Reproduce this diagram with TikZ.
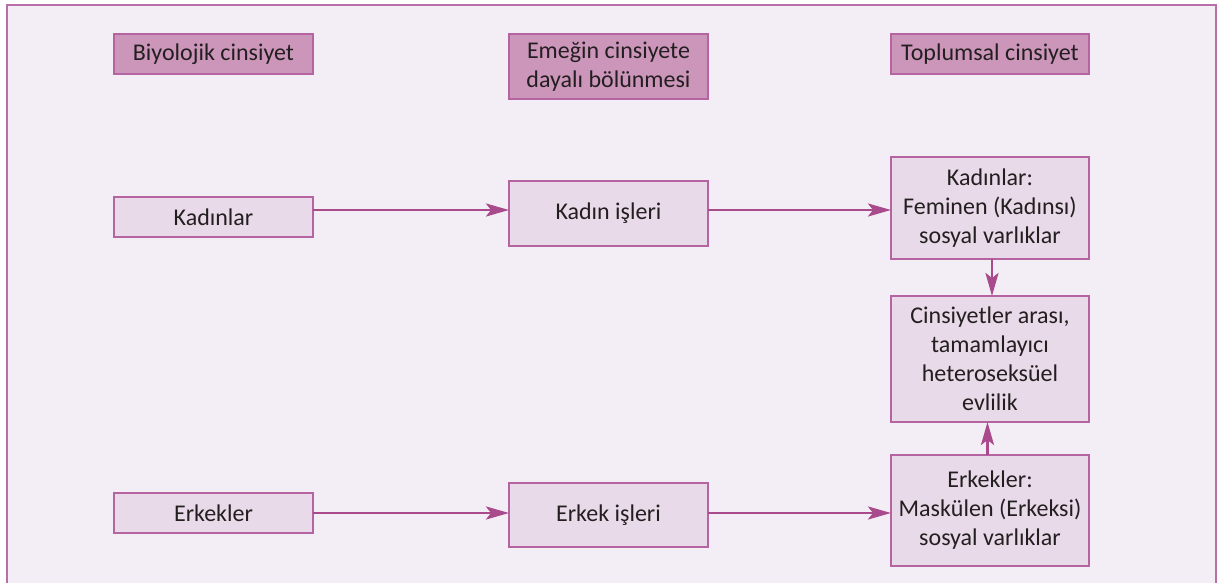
\documentclass[tikz,border=0pt]{standalone}
\usepackage{fontspec}
\setmainfont{Carlito}
\usetikzlibrary{positioning, arrows.meta}
\definecolor{framefill}{HTML}{F3EEF5}
\definecolor{framedraw}{HTML}{B86FA8}
\definecolor{headfill}{HTML}{CC96BA}
\definecolor{boxfill}{HTML}{E8DAE8}
\definecolor{boxdraw}{HTML}{B563A1}
\definecolor{arrowcol}{HTML}{A84A8C}
\definecolor{textcol}{HTML}{231F20}
\tikzset{
x=0.5pt, y=-0.5pt, % one unit is one pixel of the layout, y runs down
every node/.style={font=\fontsize{12}{14.5}\selectfont, text=textcol, align=center}, % text of all boxes
box/.style={draw=boxdraw, fill=boxfill, line width=0.6pt, minimum width=99.5pt, inner sep=0pt, outer sep=0pt}, % light boxes
head/.style={box, fill=headfill}, % column titles
link/.style={-{Stealth[length=11.5pt, width=6.5pt, inset=2.5pt]}, draw=arrowcol, line width=1.3pt}, % connectors
}

\begin{document}
\begin{tikzpicture}
            \useasboundingbox (0,0) rectangle (1217,583);
            \draw[draw=framedraw, fill=framefill, line width=0.75pt] (7,5) rectangle (1216,600);

            \node[head, minimum height=20pt, anchor=north] (biyo) at (213.5,34) {Biyolojik cinsiyet};
            \node[head, minimum height=32.5pt, anchor=north] (emek) at (608.5,34) {Emeğin cinsiyete\\dayalı bölünmesi};
            \node[head, minimum width=99pt, minimum height=20pt, anchor=north] (toplum) at (990,34) {Toplumsal cinsiyet};

            \node[box, minimum height=20pt, below=61.5pt of biyo] (kadin) {Kadınlar};
            \node[box, minimum height=20pt, below=128pt of kadin] (erkek) {Erkekler};
            \node[box, minimum height=32.5pt, below=41pt of emek] (kadinis) {Kadın işleri};
            \node[box, minimum height=32pt, below=118.5pt of kadinis] (erkekis) {Erkek işleri};
            \node[box, minimum width=99pt, minimum height=51pt, below=41.5pt of toplum] (feminen) {Kadınlar:\\Feminen (Kadınsı)\\sosyal varlıklar};
            \node[box, minimum width=99pt, minimum height=63pt, below=18.5pt of feminen] (evlilik) {Cinsiyetler arası,\\tamamlayıcı\\heteroseksüel\\evlilik};
            \node[box, minimum width=99pt, minimum height=55.5pt, below=16.5pt of evlilik] (maskulen) {Erkekler:\\Maskülen (Erkeksi)\\sosyal varlıklar};

            \draw[link] ([yshift=3.5pt]kadin.east) -- ([yshift=3.5pt]kadin.east -| kadinis.west);
            \draw[link] ([yshift=1.75pt]kadinis.east) -- ([yshift=1.75pt]kadinis.east -| feminen.west);
            \draw[link] (erkek.east) -- (erkek.east -| erkekis.west);
            \draw[link] ([yshift=1pt]erkekis.east) -- ([yshift=1pt]erkekis.east -| maskulen.west);
            \draw[link] ([xshift=1pt]feminen.south) -- ([xshift=1pt]evlilik.north);
            \draw[link] ([xshift=-1.25pt]maskulen.north) -- ([xshift=-1.25pt]evlilik.south);
\end{tikzpicture}
\end{document}
